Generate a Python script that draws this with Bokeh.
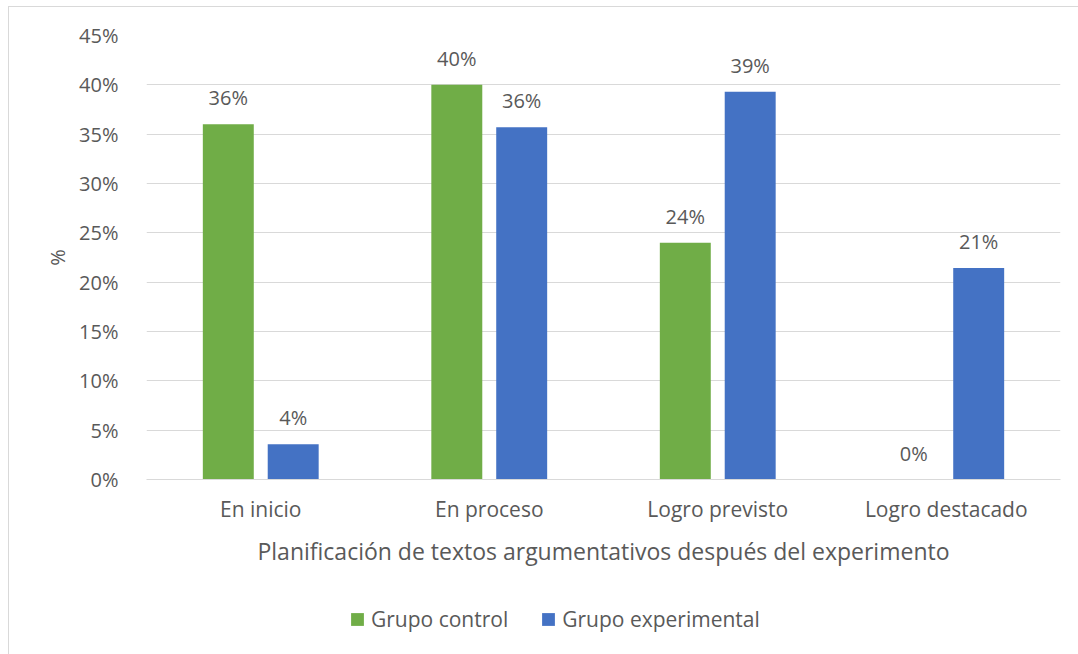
from bokeh.plotting import figure
from bokeh.layouts import column
from bokeh.models import (ColumnDataSource, Range1d, FactorRange, FixedTicker,
                          NumeralTickFormatter, LabelSet, Legend, LegendItem)
from bokeh.core.properties import value
from bokeh.transform import dodge
from bokeh.embed import file_html
from bokeh.resources import INLINE

categories = ["En inicio", "En proceso", "Logro previsto", "Logro destacado"]
series_names = ["Grupo control", "Grupo experimental"]
control = [36.0, 40.0, 24.0, 0.0]
experimental = [3.57, 35.71, 39.29, 21.43]
y_ticks = [0, 5, 10, 15, 20, 25, 30, 35, 40, 45]

FONT = "Open Sans"
TXT = "#595959"
GREEN = "#70AD47"
BLUE = "#4472C4"

src = ColumnDataSource(dict(
    cat=categories,
    control=[v / 100 for v in control],
    experimental=[v / 100 for v in experimental],
    lab_c=[f"{round(v):.0f}%" for v in control],
    lab_e=[f"{round(v):.0f}%" for v in experimental],
))

p = figure(width=1069, height=583, output_backend="svg", toolbar_location=None,
           x_range=FactorRange(*categories, range_padding=0),
           y_range=Range1d(0, 0.45),
           min_border_left=137, min_border_right=18, min_border_top=28,
           min_border_bottom=111)
p.outline_line_color = None
p.background_fill_color = "white"
p.border_fill_color = "white"

off = 0.142
w = 0.223
p.vbar(x=dodge("cat", -off, range=p.x_range), top="control", width=w,
       source=src, fill_color=GREEN, line_color=None)
p.vbar(x=dodge("cat", off, range=p.x_range), top="experimental", width=w,
       source=src, fill_color=BLUE, line_color=None)

for col, lab, dx in (("control", "lab_c", -off), ("experimental", "lab_e", off)):
    ls = LabelSet(x=dodge("cat", dx, range=p.x_range), y=col, text=lab, source=src,
                  text_align="center", text_baseline="bottom", y_offset=13,
                  text_font=value(FONT), text_font_size=value("20px"),
                  text_color=TXT)
    p.add_layout(ls)

# y axis
p.yaxis.ticker = FixedTicker(ticks=[t / 100 for t in y_ticks])
p.yaxis.formatter = NumeralTickFormatter(format="0%")
p.yaxis.axis_line_color = None
p.yaxis.major_tick_line_color = None
p.yaxis.minor_tick_line_color = None
p.yaxis.major_label_text_font = FONT
p.yaxis.major_label_text_font_size = "20px"
p.yaxis.major_label_text_color = TXT
p.yaxis.major_label_standoff = 22
p.yaxis.axis_label = "%"
p.yaxis.axis_label_text_font = FONT
p.yaxis.axis_label_text_font_size = "20px"
p.yaxis.axis_label_text_font_style = "normal"
p.yaxis.axis_label_text_color = TXT
p.yaxis.axis_label_standoff = 5

# x axis
p.xaxis.axis_line_color = "#d9d9d9"
p.xaxis.major_tick_line_color = None
p.xaxis.minor_tick_line_color = None
p.xaxis.major_label_text_font = FONT
p.xaxis.major_label_text_font_size = "21px"
p.xaxis.major_label_text_color = TXT
p.xaxis.major_label_standoff = 9
p.xaxis.axis_label = "Planificación de textos argumentativos después del experimento"
p.xaxis.axis_label_text_font = FONT
p.xaxis.axis_label_text_font_size = "23px"
p.xaxis.axis_label_text_font_style = "normal"
p.xaxis.axis_label_text_color = TXT
p.xaxis.axis_label_standoff = 9

p.xgrid.grid_line_color = None
p.ygrid.grid_line_color = "#d9d9d9"
p.ygrid.grid_line_width = 1

# legend strip (its renderers hold a placeholder outside the visible range)
q = figure(width=1069, height=64, output_backend="svg", toolbar_location=None,
           x_range=Range1d(0, 1), y_range=Range1d(0, 1),
           x_axis_type=None, y_axis_type=None,
           min_border_left=0, min_border_right=0, min_border_top=0,
           min_border_bottom=0)
q.outline_line_color = None
q.grid.visible = False
lc = q.vbar(x=[-5], top=[-5], width=0.1, fill_color=GREEN, line_color=None)
le = q.vbar(x=[-5], top=[-5], width=0.1, fill_color=BLUE, line_color=None)
legend = Legend(items=[LegendItem(label=series_names[0], renderers=[lc]),
                       LegendItem(label=series_names[1], renderers=[le])],
                orientation="horizontal", location=(203, 21),
                glyph_width=16, glyph_height=16, label_standoff=6, spacing=32,
                padding=0, margin=0, border_line_color=None,
                background_fill_alpha=0,
                label_text_font=FONT, label_text_font_size="21px",
                label_text_color=TXT)
q.add_layout(legend, "center")

layout = column(p, q, spacing=0)
layout.styles = {"margin-left": "8px", "margin-top": "6px",
                 "border-left": "1px solid #d9d9d9", "border-top": "1px solid #d9d9d9"}

open("out.html", "w").write(file_html(layout, INLINE))
